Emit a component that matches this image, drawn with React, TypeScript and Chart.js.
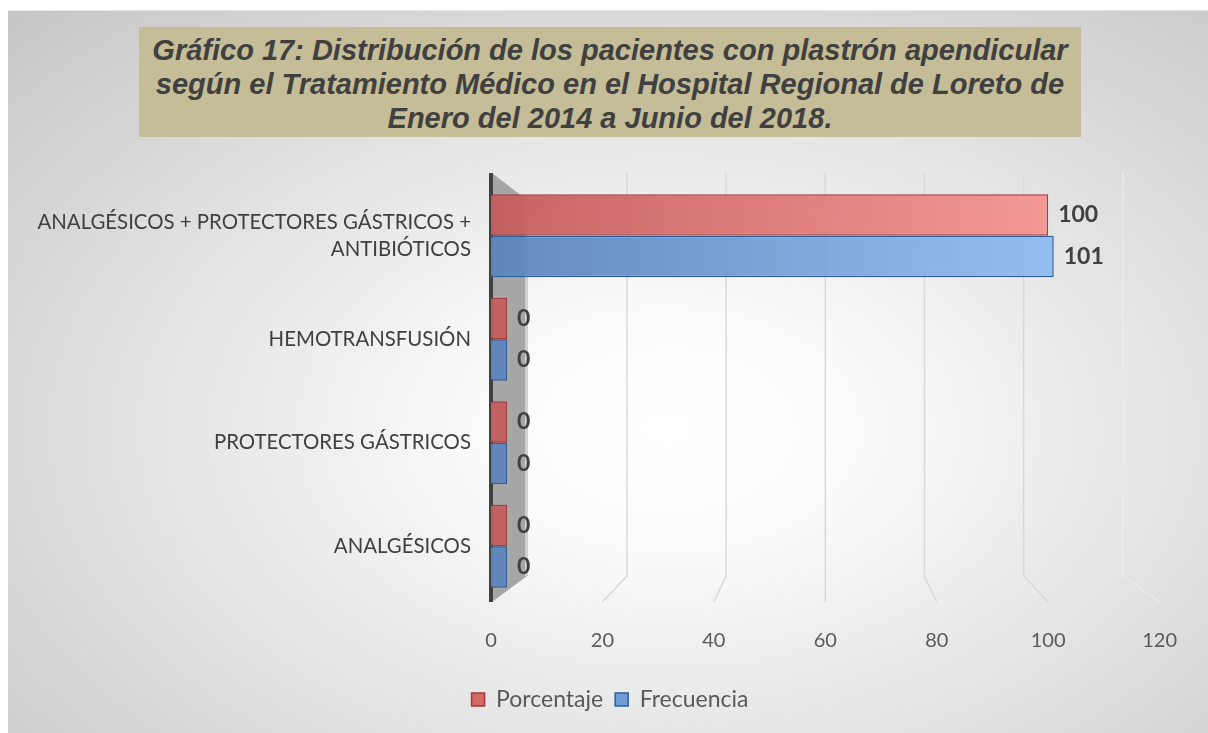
import React, { useEffect, useRef } from "react";
import { Chart, registerables } from "chart.js";

Chart.register(...registerables);

const TITLE_LINES = [
  "Gráfico 17: Distribución de los pacientes con plastrón apendicular",
  "según el Tratamiento Médico en el Hospital Regional de Loreto de",
  "Enero del 2014 a Junio del 2018.",
];

const CATEGORIES: (string | string[])[] = [
  ["ANALGÉSICOS + PROTECTORES GÁSTRICOS +", "ANTIBIÓTICOS"],
  "HEMOTRANSFUSIÓN",
  "PROTECTORES GÁSTRICOS",
  "ANALGÉSICOS",
];

const PORCENTAJE = [100, 0, 0, 0];
const FRECUENCIA = [101, 0, 0, 0];

const X_MIN = 0;
const X_MAX = 120;
const X_STEP = 20;

const W = 1200;
const H = 723;
const FONT = "Lato, 'Open Sans', sans-serif";

function makeGradient(chart: any, c1: string, c2: string, fallback: string) {
  const area = chart.chartArea;
  const xs = chart.scales?.x;
  if (!area || !xs) return fallback;
  const g = chart.ctx.createLinearGradient(area.left, 0, xs.getPixelForValue(100), 0);
  g.addColorStop(0, c1);
  g.addColorStop(1, c2);
  return g;
}

const wallPlugin = {
  id: "wall3d",
  beforeDatasetsDraw(chart: any) {
    const { ctx, chartArea, scales } = chart;
    const xs = scales.x;
    const top = chartArea.top;
    const bottom = chartArea.bottom;
    const x0 = xs.getPixelForValue(0);
    const cx = xs.getPixelForValue(60);
    ctx.save();
    xs.ticks.forEach((t: any) => {
      if (t.value === 0) return;
      const fx = xs.getPixelForValue(t.value);
      const bx = cx + (fx - cx) * 0.89;
      ctx.strokeStyle = t.value === 120 ? "rgba(235,235,235,0.9)" : "#d9d9d9";
      ctx.lineWidth = 1.5;
      ctx.beginPath();
      ctx.moveTo(bx, top - 11);
      ctx.lineTo(bx, bottom - 22);
      ctx.lineTo(fx, bottom + 4);
      ctx.stroke();
    });
    ctx.fillStyle = "#a6a6a6";
    ctx.beginPath();
    ctx.moveTo(x0 + 1, top - 11);
    ctx.lineTo(x0 + 36, top + 16);
    ctx.lineTo(x0 + 36, bottom - 22);
    ctx.lineTo(x0 + 1, bottom + 4);
    ctx.closePath();
    ctx.fill();
    ctx.fillStyle = "#d0d0d0";
    ctx.fillRect(x0 + 34, top + 15, 3, bottom - top - 37);
    ctx.strokeStyle = "#404040";
    ctx.lineWidth = 4;
    ctx.beginPath();
    ctx.moveTo(x0, top - 11);
    ctx.lineTo(x0, bottom + 4);
    ctx.stroke();
    ctx.restore();
  },
};

const valueLabelPlugin = {
  id: "valueLabels",
  afterDatasetsDraw(chart: any) {
    const { ctx } = chart;
    ctx.save();
    ctx.font = `bold 23px ${FONT}`;
    ctx.fillStyle = "#404040";
    ctx.textAlign = "left";
    ctx.textBaseline = "middle";
    chart.data.datasets.forEach((ds: any, i: number) => {
      const meta = chart.getDatasetMeta(i);
      meta.data.forEach((el: any, j: number) => {
        ctx.fillText(String(ds.data[j]), el.x + 10, el.y);
      });
    });
    ctx.restore();
  },
};

const legendShiftPlugin = {
  id: "legendShift",
  afterLayout(chart: any) {
    const lg = chart.legend;
    if (!lg) return;
    const dx = 24;
    lg.left += dx;
    lg.right += dx;
    if (lg.legendHitBoxes) lg.legendHitBoxes.forEach((b: any) => (b.left += dx));
  },
};

export default function App() {
  const ref = useRef<HTMLCanvasElement | null>(null);

  useEffect(() => {
    document.documentElement.style.overflow = "hidden";
    document.body.style.overflow = "hidden";
    if (!ref.current) return;
    const chart = new Chart(ref.current, {
      type: "bar",
      data: {
        labels: CATEGORIES as any,
        datasets: [
          {
            label: "Porcentaje",
            data: PORCENTAJE,
            backgroundColor: (c: any) => makeGradient(c.chart, "rgba(196,92,92,0.95)", "rgba(244,148,145,0.95)", "#d97070"),
            borderColor: "#a33a3a",
            borderWidth: 1.5,
            minBarLength: 16,
            categoryPercentage: 0.8,
            barPercentage: 1.0,
          },
          {
            label: "Frecuencia",
            data: FRECUENCIA,
            backgroundColor: (c: any) => makeGradient(c.chart, "rgba(92,132,188,0.95)", "rgba(143,187,240,0.95)", "#6f9bd6"),
            borderColor: "#2f5e9c",
            borderWidth: 1.5,
            minBarLength: 16,
            categoryPercentage: 0.8,
            barPercentage: 1.0,
          },
        ],
      },
      options: {
        indexAxis: "y",
        responsive: false,
        animation: false,
        devicePixelRatio: 1,
        layout: { padding: { top: 173, right: 44, bottom: 12, left: 0 } },
        scales: {
          x: {
            min: X_MIN,
            max: X_MAX,
            ticks: {
              stepSize: X_STEP,
              color: "#595959",
              font: { family: FONT, size: 20 },
              padding: 31,
            },
            grid: { display: false, drawTicks: false },
            border: { display: false },
            afterFit: (s: any) => {
              s.height = 78;
            },
          },
          y: {
            ticks: {
              color: "#404040",
              font: { family: FONT, size: 20.4, lineHeight: 1.3 },
              padding: 20,
            },
            grid: { display: false, drawTicks: false },
            border: { display: false },
            afterFit: (s: any) => {
              s.width = 483;
            },
          },
        },
        plugins: {
          legend: {
            position: "bottom",
            labels: {
              color: "#595959",
              font: { family: FONT, size: 23 },
              boxWidth: 13,
              boxHeight: 13,
              padding: 12,
              generateLabels: () => [
                { text: "Porcentaje", fillStyle: "#d46a66", strokeStyle: "#a33a3a", lineWidth: 1.5, datasetIndex: 0, hidden: false, fontColor: "#595959" },
                { text: "Frecuencia", fillStyle: "#6f9bd6", strokeStyle: "#2f5e9c", lineWidth: 1.5, datasetIndex: 1, hidden: false, fontColor: "#595959" },
              ],
            },
          },
          title: { display: false },
          tooltip: { enabled: false },
        },
      },
      plugins: [wallPlugin, valueLabelPlugin, legendShiftPlugin],
    });
    return () => chart.destroy();
  }, []);

  return (
    <div
      style={{
        position: "fixed",
        left: 8,
        top: 10,
        right: 0,
        bottom: 0,
        borderTop: "1px solid #e6e6e6",
        background:
          "radial-gradient(ellipse farthest-corner at 55% 58%, #ffffff 0%, #fcfcfc 18%, #c6c6c6 100%)",
      }}
    >
      <canvas ref={ref} width={W} height={H - 1} style={{ display: "block" }} />
      <div
        style={{
          position: "absolute",
          left: 131,
          top: 16,
          width: 942,
          height: 110,
          background: "#c4bd97",
          color: "#404040",
          fontFamily: "'Liberation Sans', Arial, sans-serif",
          fontWeight: "bold",
          fontStyle: "italic",
          fontSize: 29,
          lineHeight: "34px",
          textAlign: "center",
          paddingTop: 6,
          boxSizing: "border-box",
          whiteSpace: "nowrap",
        }}
      >
        {TITLE_LINES.map((l, i) => (
          <div key={i}>{l}</div>
        ))}
      </div>
    </div>
  );
}
